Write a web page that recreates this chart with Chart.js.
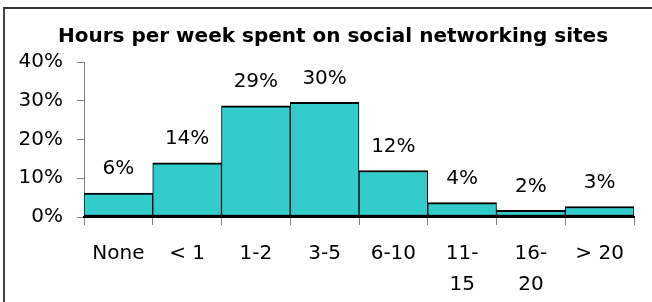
<!DOCTYPE html>
<html>
<head>
<meta charset="utf-8">
<script src="https://cdn.jsdelivr.net/npm/chart.js@4.4.1/dist/chart.umd.min.js"></script>
<style>
  html, body { margin: 0; padding: 0; background: #fff; }
  #wrap { position: relative; width: 652px; height: 302px; overflow: hidden; }
  #frame { position: absolute; left: 3px; top: 7px; width: 700px; height: 400px;
           border-top: 2px solid #333; border-left: 2px solid #444; pointer-events: none; }
  canvas { position: absolute; left: 0; top: 0; }
</style>
</head>
<body>
<div id="wrap">
  <canvas id="chart1" width="652" height="302"></canvas>
  <div id="frame"></div>
</div>
<script>
const categories = ['None', '< 1', '1-2', '3-5', '6-10', ['11-', '15'], ['16-', '20'], '> 20'];
const percentValues = [6.2, 14, 28.7, 29.6, 12, 3.7, 1.7, 2.7];
const percentLabels = ['6%', '14%', '29%', '30%', '12%', '4%', '2%', '3%'];
const yTicks = [0, 10, 20, 30, 40];

// labels above the bars
const barLabels = {
    id: 'barLabels',
    afterDatasetsDraw(chart) {
        const ctx = chart.ctx;
        const meta = chart.getDatasetMeta(0);
        ctx.save();
        ctx.font = '20px "DejaVu Sans"';
        ctx.fillStyle = '#000000';
        ctx.textAlign = 'center';
        ctx.textBaseline = 'middle';
        meta.data.forEach((bar, i) => {
            ctx.fillText(percentLabels[i], bar.x, bar.y - 24);
        });
        ctx.restore();
    }
};

Chart.defaults.font.family = '"DejaVu Sans"';
Chart.defaults.color = '#000000';

const ctx1 = document.getElementById('chart1');
const myChart = new Chart(ctx1, {
    type: 'bar',
    data: {
        labels: categories,
        datasets: [{
            data: percentValues,
            backgroundColor: '#33CCCC',
            borderColor: '#000000',
            borderWidth: { top: 2, bottom: 2, left: 1, right: 1 },
            borderSkipped: false
        }]
    },
    options: {
        responsive: false,
        animation: false,
        events: [],
        layout: {
            padding: { left: 14, right: 0, top: 0, bottom: 0 }
        },
        categoryPercentage: 1,
        barPercentage: 1,
        scales: {
            y: {
                min: 0,
                max: 40,
                afterBuildTicks: (scale) => {
                    scale.ticks = yTicks.map(v => ({ value: v }));
                },
                afterFit: (scale) => { scale.width = 70; },
                grid: {
                    drawOnChartArea: false,
                    tickLength: 7,
                    tickColor: '#808080'
                },
                border: {
                    color: '#808080',
                    width: 1
                },
                ticks: {
                    padding: 14,
                    color: '#000000',
                    font: { size: 20 },
                    callback: (v) => v + '%'
                }
            },
            // empty axis on the right, only keeps space free
            yRight: {
                position: 'right',
                min: 0,
                max: 40,
                afterFit: (scale) => { scale.width = 18; },
                grid: { display: false },
                border: { display: false },
                ticks: { display: false }
            },
            x: {
                afterFit: (scale) => { scale.height = 85; },
                grid: {
                    offset: true,
                    drawOnChartArea: false,
                    tickLength: 8,
                    tickColor: '#808080'
                },
                border: {
                    color: '#000000',
                    width: 2
                },
                ticks: {
                    padding: 13,
                    maxRotation: 0,
                    autoSkip: false,
                    color: '#000000',
                    font: { size: 20, lineHeight: 1.55 }
                }
            }
        },
        plugins: {
            title: {
                display: true,
                text: 'Hours per week spent on social networking sites',
                color: '#000000',
                font: { size: 20, weight: 'bold', lineHeight: 1.2 },
                padding: { top: 25, bottom: 13 }
            },
            legend: { display: false },
            tooltip: { enabled: false }
        }
    },
    plugins: [barLabels]
});
</script>
</body>
</html>
